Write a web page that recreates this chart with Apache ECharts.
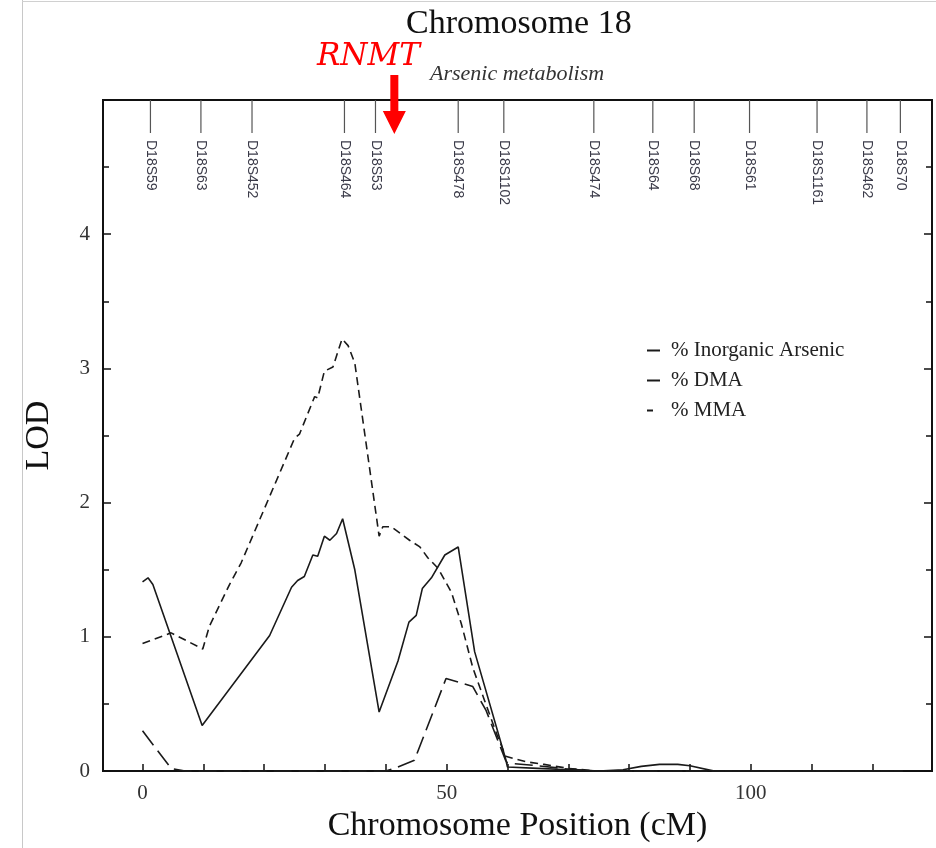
<!DOCTYPE html>
<html>
<head>
<meta charset="utf-8">
<script src="https://cdn.jsdelivr.net/npm/echarts@6/dist/echarts.min.js"></script>
<style>
  html, body { margin: 0; padding: 0; background: #fff; }
  #chart { width: 936px; height: 848px; }
</style>
</head>
<body>
<div id="chart"></div>
<script>
// LOD profiles along chromosome 18: [position (cM), LOD]
const INORGANIC = [
  [0, 1.41], [0.9, 1.44], [1.7, 1.39], [9.8, 0.34], [20.9, 1.01], [24.5, 1.37],
  [25.5, 1.42], [26.6, 1.45], [28.0, 1.61], [28.8, 1.60], [29.9, 1.75], [30.8, 1.72],
  [31.9, 1.77], [32.9, 1.88], [34.9, 1.50], [38.9, 0.44], [42.0, 0.82], [43.8, 1.11],
  [45.0, 1.16], [46.0, 1.36], [47.5, 1.44], [49.7, 1.61], [51.9, 1.67], [54.6, 0.89],
  [59.7, 0.09], [60.0, 0.03], [65, 0.02], [70, 0.01], [75, 0.0], [79, 0.01],
  [82, 0.035], [85, 0.05], [88, 0.05], [90, 0.04], [94, 0.0], [125, 0.0]
];
const DMA = [
  [0, 0.30], [4.7, 0.02], [7, 0.0], [40, 0.0], [41.4, 0.02], [44.7, 0.08],
  [49.9, 0.69], [54.3, 0.63], [56.5, 0.45], [59.7, 0.08], [60.0, 0.06], [65, 0.04],
  [70, 0.015], [75, 0.0], [125, 0.0]
];
const MMA = [
  [0, 0.95], [4.7, 1.03], [9.9, 0.91], [11, 1.08], [14.3, 1.39], [16.2, 1.55],
  [25.0, 2.48], [25.8, 2.51], [28.3, 2.79], [28.8, 2.78], [29.9, 2.98], [31.3, 3.01],
  [32.8, 3.22], [33.8, 3.17], [34.9, 3.04], [38.9, 1.75], [39.5, 1.82], [40.9, 1.82],
  [43.9, 1.72], [45.6, 1.67], [46.9, 1.59], [48.6, 1.51], [50.8, 1.33], [52.4, 1.10],
  [54.3, 0.77], [56.2, 0.53], [58.2, 0.28], [59.7, 0.11], [60, 0.10], [63, 0.07],
  [66, 0.05], [70, 0.02], [75, 0.0], [125, 0.0]
];

// Genetic markers and their map positions (cM)
const MARKER_NAMES = ['D18S59', 'D18S63', 'D18S452', 'D18S464', 'D18S53', 'D18S478', 'D18S1102',
  'D18S474', 'D18S64', 'D18S68', 'D18S61', 'D18S1161', 'D18S462', 'D18S70'];
const MARKER_POS = [1.3, 9.6, 18.0, 33.2, 38.3, 51.9, 59.4, 74.2, 83.9, 90.7, 99.8, 110.9, 119.1, 124.6];

// Candidate gene position (cM)
const RNMT_POS = 41.4;

// Axis ticks
const X_TICKS = [0, 10, 20, 30, 40, 50, 60, 70, 80, 90, 100, 110, 120];
const X_LABELS = [0, 50, 100];
const X_MIN = -6.5, X_MAX = 129.8;
const Y_MIN = 0, Y_MAX = 5;

const SERIF = '"Liberation Serif", "DejaVu Serif", serif';
const INK = '#1a1a1a';

// Legend keys: short horizontal strokes (the last one is a single short dash,
// with a vanishingly small anchor at the right so it stays left-aligned)
const KEY_LONG = 'path://M0,0H13V2H0Z';
const KEY_SHORT = 'path://M0,0H6V2H0ZM12.99,1H13V1.01H12.99Z';

const chart = echarts.init(document.getElementById('chart'), null, { renderer: 'canvas' });

const yAxisBase = {
  type: 'value',
  min: Y_MIN,
  max: Y_MAX,
  interval: 1,
  axisLine: { show: true, onZero: false, lineStyle: { color: '#111', width: 2 } },
  axisTick: { show: true, inside: true, length: 8, lineStyle: { color: '#111', width: 1.5 } },
  minorTick: { show: true, splitNumber: 2, length: 6, lineStyle: { color: '#111', width: 1.5 } },
  splitLine: { show: false },
  minorSplitLine: { show: false }
};

const option = {
  backgroundColor: '#fff',
  animation: false,
  title: {
    text: 'Chromosome 18',
    left: 401,
    top: 2,
    textStyle: { fontFamily: SERIF, fontSize: 34, fontWeight: 'normal', color: '#111' }
  },
  legend: {
    orient: 'vertical',
    left: 647,
    top: 340,
    padding: 0,
    itemWidth: 13,
    itemHeight: 2.4,
    itemGap: 9,
    data: [
      { name: '% Inorganic Arsenic', icon: KEY_LONG },
      { name: '% DMA', icon: KEY_LONG },
      { name: '% MMA', icon: KEY_SHORT }
    ],
    itemStyle: { color: INK, borderWidth: 0 },
    textStyle: { fontFamily: SERIF, fontSize: 21, color: '#222', padding: [0, 0, 0, 6], lineHeight: 21 }
  },
  grid: {
    left: 103, right: 4, top: 100, bottom: 72,
    show: true, borderColor: '#111', borderWidth: 2, backgroundColor: 'transparent'
  },
  xAxis: {
    type: 'value',
    min: X_MIN,
    max: X_MAX,
    name: 'Chromosome Position (cM)',
    nameLocation: 'middle',
    nameGap: 35,
    nameTextStyle: { fontFamily: SERIF, fontSize: 34, color: '#111' },
    axisLine: { show: true, onZero: false, lineStyle: { color: '#111', width: 2 } },
    axisTick: { show: true, inside: true, length: 7, customValues: X_TICKS, lineStyle: { color: '#111', width: 1.5 } },
    axisLabel: { customValues: X_LABELS, fontFamily: SERIF, fontSize: 21, color: '#333', margin: 12 },
    splitLine: { show: false }
  },
  yAxis: [
    Object.assign({}, yAxisBase, {
      position: 'left',
      name: 'LOD',
      nameLocation: 'middle',
      nameGap: 47,
      nameTextStyle: { fontFamily: SERIF, fontSize: 34, color: '#111' },
      axisLabel: { showMaxLabel: false, fontFamily: SERIF, fontSize: 21, color: '#333', margin: 13 }
    }),
    Object.assign({}, yAxisBase, {
      position: 'right',
      axisLabel: { show: false }
    })
  ],
  series: [
    {
      name: '% Inorganic Arsenic',
      type: 'line',
      data: INORGANIC,
      symbol: 'none',
      lineStyle: { color: INK, width: 1.6, type: 'solid' },
      itemStyle: { color: INK },
      z: 3
    },
    {
      name: '% DMA',
      type: 'line',
      data: DMA,
      symbol: 'none',
      lineStyle: { color: INK, width: 1.6, type: [18, 7] },
      itemStyle: { color: INK },
      z: 3
    },
    {
      name: '% MMA',
      type: 'line',
      data: MMA,
      symbol: 'none',
      lineStyle: { color: INK, width: 1.6, type: [8, 5] },
      itemStyle: { color: INK },
      z: 3
    },
    {
      // marker ticks hanging from the top of the plot, with rotated names
      name: 'markers',
      type: 'custom',
      data: MARKER_POS.map(p => [p, Y_MAX]),
      clip: false,
      silent: true,
      z: 4,
      renderItem: function (params, api) {
        const p = api.coord([api.value(0), api.value(1)]);
        return {
          type: 'group',
          children: [
            {
              type: 'line',
              shape: { x1: p[0], y1: p[1], x2: p[0], y2: p[1] + 33 },
              style: { stroke: '#555', lineWidth: 1.2 }
            },
            {
              type: 'text',
              x: p[0],
              y: p[1] + 40,
              rotation: -Math.PI / 2,
              style: {
                text: MARKER_NAMES[params.dataIndex],
                fontFamily: '"Liberation Sans", Arial, sans-serif',
                fontSize: 14,
                fill: '#3a3a48',
                align: 'left',
                verticalAlign: 'middle'
              }
            }
          ]
        };
      }
    }
  ]
};

chart.setOption(option);

// Gene annotation: red arrow pointing at the RNMT position above the plot
const genePx = chart.convertToPixel({ xAxisIndex: 0, yAxisIndex: 0 }, [RNMT_POS, Y_MAX]);
const ax = genePx[0];
chart.setOption({
  graphic: [
    {
      type: 'polygon',
      shape: {
        points: [
          [ax - 4, 75], [ax + 4, 75], [ax + 4, 111], [ax + 11.5, 111],
          [ax, 134], [ax - 11.5, 111], [ax - 4, 111]
        ]
      },
      style: { fill: '#ff0000' },
      z: 10
    },
    {
      type: 'text',
      x: 317,
      y: 57,
      style: {
        text: 'RNMT',
        fontFamily: '"DejaVu Serif", serif',
        fontStyle: 'italic',
        fontSize: 31,
        fill: '#ff0000',
        align: 'left',
        verticalAlign: 'middle'
      },
      z: 10
    },
    {
      type: 'text',
      x: 430,
      y: 74,
      style: {
        text: 'Arsenic metabolism',
        fontFamily: SERIF,
        fontStyle: 'italic',
        fontSize: 22,
        fill: '#333',
        align: 'left',
        verticalAlign: 'middle'
      },
      z: 10
    },
    // thin page frame lines
    {
      type: 'line',
      shape: { x1: 22.5, y1: 0, x2: 22.5, y2: 848 },
      style: { stroke: '#c8c8c8', lineWidth: 1 },
      z: 1
    },
    {
      type: 'line',
      shape: { x1: 22, y1: 1.5, x2: 936, y2: 1.5 },
      style: { stroke: '#d0d0d0', lineWidth: 1 },
      z: 1
    }
  ]
});
</script>
</body>
</html>
